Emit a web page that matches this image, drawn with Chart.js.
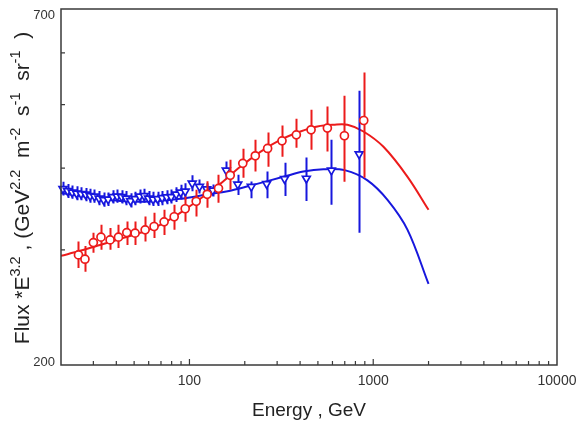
<!DOCTYPE html>
<html><head><meta charset="utf-8">
<script src="https://cdn.jsdelivr.net/npm/chart.js@4.4.1/dist/chart.umd.min.js"></script>
<style>html,body{margin:0;padding:0;background:#fff}canvas{display:block}</style>
</head><body>
<canvas id="c" width="579" height="425"></canvas>
<script>
// ---- data ----
const redEnergy=[24.9,27.0,30.0,33.0,37.0,41.1,45.6,50.6,57.4,64.2,72.8,82.6,94.8,108.8,124.9,143.9,166.7,195.1,228.2,266.3,318.9,381.6,459.0,563.0,696.9,888.0];
const redFlux=[294.6,290.2,307.7,313.6,310.6,313.6,318.7,318.1,321.8,325.6,331.0,337.0,346.6,355.8,364.7,372.4,389.9,406.7,417.6,428.5,440.2,449.6,457.6,460.4,448.1,472.8];
const redLow=[281.4,277.8,296.8,299.9,299.9,302.0,305.1,305.1,308.8,312.8,316.1,321.8,331.0,337.3,347.7,353.9,370.5,386.5,395.1,401.7,416.1,429.5,426.6,424.0,381.0,386.5];
const redHigh=[308.8,304.1,318.4,327.5,324.0,327.5,331.4,331.4,337.3,341.7,345.3,351.4,361.8,370.5,381.7,390.5,411.8,428.0,441.7,453.2,464.5,475.7,491.1,496.8,515.9,559.9];

const blueEnergy=[20.5,21.7,23.0,24.3,25.7,27.2,28.8,30.4,32.2,34.1,36.1,38.2,40.4,42.7,45.2,47.8,50.6,53.6,56.7,59.9,63.4,67.1,71.0,75.2,79.5,84.7,89.6,94.8,103.5,113.4,124.1,133.9,158.6,183.2,217.0,263.0,329.1,432.6,592.2,838.1];
const blueFlux=[371.7,369.1,367.1,365.8,365.2,364.6,362.6,362.0,359.5,357.6,358.2,361.4,362.0,361.4,359.5,356.3,358.9,362.0,362.6,359.5,358.2,358.9,360.1,361.0,361.4,364.6,367.1,368.5,378.9,374.7,371.3,369.8,396.7,377.6,374.7,378.3,385.0,385.5,396.7,420.1];
const blueLow=[363,360,359,357,357,356,354,354,351,349,350,353,354,353,351,348,351,353,354,351,350,350,351,352,353,355,358,358,368.5,365.6,363.6,362.0,386.0,363.9,359.7,359.7,362.6,356.3,351.4,318.4];
const blueHigh=[381,378,376,375,374,373,372,371,369,367,367,370,371,370,369,366,368,371,372,369,368,368,369,370,371,374,377,379,389.9,384.1,379.2,377.6,409.3,390.5,381.4,395.1,407.4,415.0,441.7,525.0];

const redFitEnergy=[20,25.4,32.6,41.9,53.9,69.3,89.0,114.4,147.1,189.0,243.0,312.3,401.4,496.8,607.2,723.9,884.8,1137,1537,2000];
const redFitFlux=[293.6,298.9,305.1,311.6,318.4,327.5,341.7,358.9,378.3,401.7,423.5,441.7,454.9,463.0,465.7,465.7,454.9,431.0,387.8,345.3];
const blueFitEnergy=[20,25.4,32.6,41.9,61.1,89.0,129.7,158.6,222.5,324.2,416.7,535.6,706.2,930.3,1196,1537,2000];
const blueFitFlux=[366.5,362.6,358.9,356.3,355.5,358.9,365.2,368.2,377.0,387.8,395.1,398.3,396.7,383.0,357.6,321.8,266.0];

const xLabelValues=[100,1000,10000];
const xTickLabels=['100','1000','10000'];
const yLabelValues=[200,700];
const yTickLabels=['200','700'];
const xMinorTicks=[30,40,50,60,70,80,90,200,300,400,500,600,700,800,900,2000,3000,4000,5000,6000,7000,8000,9000];
const xMajorTicks=[100,1000];
const yMinorTicks=[300,400,500,600];
const xTitle='Energy , GeV';
const yTitleParts=[['Flux *E',0],['3.2',1],[' , (GeV',0],['2.2',1],['  m',0],['-2',1],['  s',0],['-1',1],['  sr',0],['-1',1],['  )',0]];

const RED='#ec1b1b', BLUE='#1717dd', AXIS='#3a3a3a';
const pts=(xs,ys)=>xs.map((v,i)=>({x:v,y:ys[i]}));

const errorBars={id:'errorBars',beforeDatasetDraw(chart,args){
  const ds=chart.data.datasets[args.index]; if(!ds.errLow) return;
  const ctx=chart.ctx,xs=chart.scales.x,ys=chart.scales.y;
  ctx.save();ctx.strokeStyle=ds.borderColor;ctx.lineWidth=2;ctx.beginPath();
  ds.data.forEach((p,i)=>{const px=Math.round(xs.getPixelForValue(p.x))+0.5;
    ctx.moveTo(px,ys.getPixelForValue(ds.errLow[i]));ctx.lineTo(px,ys.getPixelForValue(ds.errHigh[i]));});
  ctx.stroke();ctx.restore();}};

const frame={id:'frame',afterDatasetsDraw(chart){
  const ctx=chart.ctx,a=chart.chartArea,xs=chart.scales.x,ys=chart.scales.y;
  ctx.save();ctx.strokeStyle=AXIS;ctx.lineWidth=1.5;
  ctx.strokeRect(a.left,a.top,a.right-a.left,a.bottom-a.top);
  ctx.lineWidth=1.2;ctx.beginPath();
  xMinorTicks.forEach(v=>{const p=xs.getPixelForValue(v);ctx.moveTo(p,a.bottom);ctx.lineTo(p,a.bottom-4);});
  xMajorTicks.forEach(v=>{const p=xs.getPixelForValue(v);ctx.moveTo(p,a.bottom);ctx.lineTo(p,a.bottom-6);});
  yMinorTicks.forEach(v=>{const p=ys.getPixelForValue(v);ctx.moveTo(a.left,p);ctx.lineTo(a.left+4,p);});
  ctx.stroke();
  // labels
  ctx.fillStyle='#333';ctx.font='14px "Liberation Sans", Arial, sans-serif';
  ctx.textAlign='center';ctx.textBaseline='middle';
  xLabelValues.forEach((v,i)=>ctx.fillText(xTickLabels[i],xs.getPixelForValue(v),a.bottom+16));
  ctx.font='13px "Liberation Sans", Arial, sans-serif';ctx.textAlign='right';
  yLabelValues.forEach((v,i)=>{let p=ys.getPixelForValue(v);p+= (v===700?6:-3);ctx.fillText(yTickLabels[i],a.left-6,p);});
  ctx.font='19px "Liberation Sans", Arial, sans-serif';ctx.textAlign='center';ctx.fillStyle='#222';
  ctx.fillText(xTitle,309,411);
  // y title with superscripts
  const big='21px "Liberation Sans", Arial, sans-serif', sm='14.5px "Liberation Sans", Arial, sans-serif';
  let total=0;yTitleParts.forEach(([t,s])=>{ctx.font=s?sm:big;total+=ctx.measureText(t).width;});
  ctx.translate(29,188);ctx.rotate(-Math.PI/2);ctx.textAlign='left';ctx.textBaseline='alphabetic';
  let x=-total/2;yTitleParts.forEach(([t,s])=>{ctx.font=s?sm:big;ctx.fillText(t,x,s?-9:0);x+=ctx.measureText(t).width;});
  ctx.restore();}};

new Chart(document.getElementById('c'),{
  type:'scatter',
  data:{datasets:[
    {label:'red',data:pts(redEnergy,redFlux),errLow:redLow,errHigh:redHigh,borderColor:RED,backgroundColor:'#fff',
     pointStyle:'circle',pointRadius:4,pointBorderWidth:1.7,showLine:false,order:1,clip:false},
    {label:'blue',data:pts(blueEnergy,blueFlux),errLow:blueLow,errHigh:blueHigh,borderColor:BLUE,backgroundColor:'#fff',
     pointStyle:'triangle',pointRotation:180,pointRadius:4.5,pointBorderWidth:1.7,showLine:false,order:2,clip:false},
    {label:'redFit',data:pts(redFitEnergy,redFitFlux),borderColor:RED,borderWidth:2,pointRadius:0,showLine:true,tension:0.35,order:3},
    {label:'blueFit',data:pts(blueFitEnergy,blueFitFlux),borderColor:BLUE,borderWidth:2,pointRadius:0,showLine:true,tension:0.35,order:4}
  ]},
  options:{responsive:false,devicePixelRatio:1,animation:false,
    layout:{padding:{left:61,right:22,top:9,bottom:60}},
    plugins:{legend:{display:false},tooltip:{enabled:false}},
    scales:{
      x:{type:'logarithmic',min:20,max:10000,display:false},
      y:{type:'logarithmic',min:200,max:700,display:false}
    }},
  plugins:[errorBars,frame]
});
</script>
</body></html>
